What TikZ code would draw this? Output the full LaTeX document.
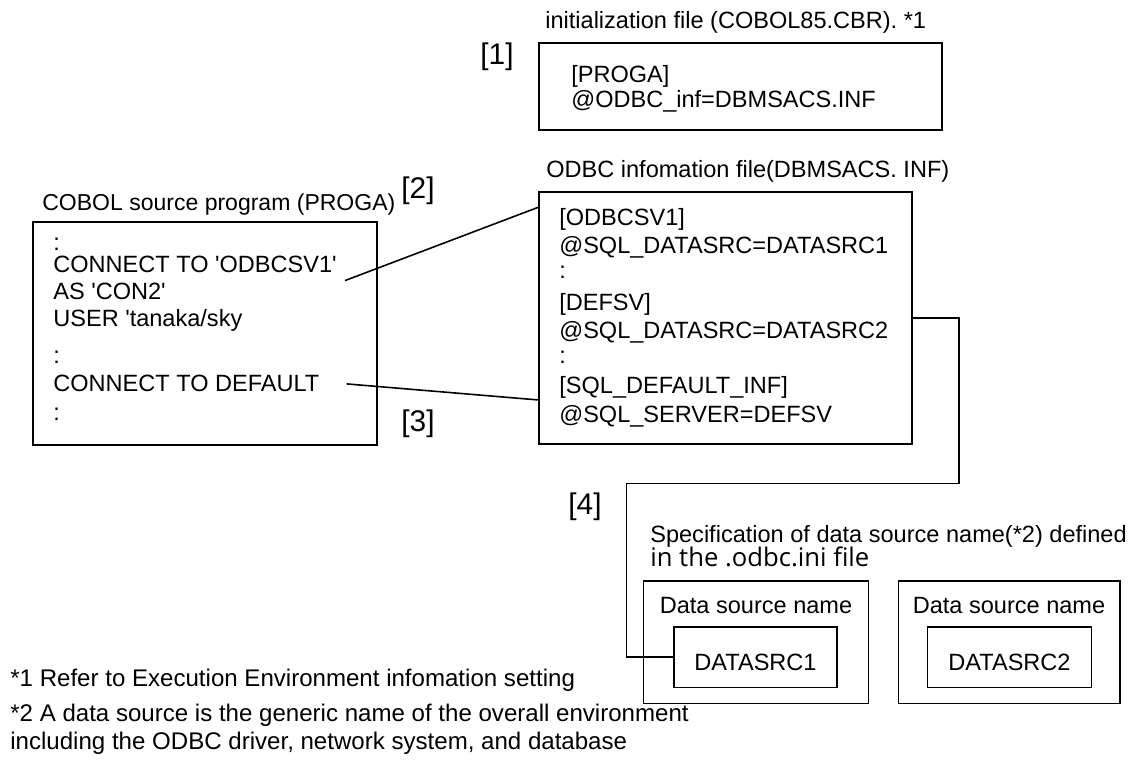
\documentclass[tikz,border=0pt]{standalone}
\usepackage{fontspec}
\setmainfont{Liberation Sans}[Ligatures=TeXOff]
\newfontfamily\inifont{Open Sans}
\usetikzlibrary{fit}

\tikzset{
  txt/.style={inner sep=0pt,anchor=base west,font=\fontsize{13.4}{15}\selectfont},
  note/.style={txt,font=\fontsize{13.7}{15}\selectfont},
  num/.style={inner sep=0pt,font=\fontsize{17}{18}\selectfont},
  filebox/.style={draw,line width=0.9pt,inner sep=0pt},
  link/.style={line width=0.9pt}
}

\begin{document}
\begin{tikzpicture}[x=0.02cm,y=-0.02cm]
  \useasboundingbox (0,0) rectangle (1133,762);

  % boxes
  \node[filebox,fit={(539,43) (942,130)}] (ini) {};
  \node[filebox,fit={(33,222) (377,445)}] (cobol) {};
  \node[filebox,fit={(539,192) (912,444)}] (odbc) {};
  \node[filebox,fit={(643.5,581) (868.5,703.5)}] (dsn1) {};
  \node[filebox,fit={(898.5,581) (1120,703.5)}] (dsn2) {};
  \node[filebox,fit={(674,627) (837,687.5)}] (src1) {};
  \node[filebox,fit={(927.5,627) (1091.5,687.5)}] (src2) {};

  % titles
  \node[txt] (initle) at (545,28) {initialization file (COBOL85.CBR). *1};
  \node[txt,font=\fontsize{13.1}{15}\selectfont] (cobtitle) at (42,210) {COBOL source program (PROGA)};
  \node[txt] (odbctitle) at (546,177) {ODBC infomation file(DBMSACS. INF)};
  \node[txt] (spec) at (650,542) {Specification of data source name(*2) defined};
  \node[txt,font=\inifont\fontsize{14.6}{17}\selectfont] (spec2) at (650,566) {in the .odbc.ini file};

  % step numbers
  \node[num] (n1) at (497,57) {[1]};
  \node[num] (n2) at (418,191) {[2]};
  \node[num] (n3) at (418,424) {[3]};
  \node[num] (n4) at (585,507) {[4]};

  % initialization file
  \node[txt] (ini1) at (571,82) {[PROGA]};
  \node[txt] (ini2) at (571,107) {@ODBC\_inf=DBMSACS.INF};

  % COBOL source
  \node[txt] (cob1) at (53,250) {:};
  \node[txt] (cob2) at (53,272) {CONNECT TO 'ODBCSV1'};
  \node[txt] (cob3) at (53,299) {AS 'CON2'};
  \node[txt] (cob4) at (53,326) {USER 'tanaka/sky};
  \node[txt] (cob5) at (53,363) {:};
  \node[txt] (cob6) at (53,391) {CONNECT TO DEFAULT};
  \node[txt] (cob7) at (53,420) {:};

  % ODBC information file
  \node[txt] (odb1) at (559,225) {[ODBCSV1]};
  \node[txt] (odb2) at (559,253) {@SQL\_DATASRC=DATASRC1};
  \node[txt] (odb3) at (559,278) {:};
  \node[txt] (odb4) at (559,310) {[DEFSV]};
  \node[txt] (odb5) at (559,338) {@SQL\_DATASRC=DATASRC2};
  \node[txt] (odb6) at (559,363) {:};
  \node[txt] (odb7) at (559,393) {[SQL\_DEFAULT\_INF]};
  \node[txt] (odb8) at (559,422) {@SQL\_SERVER=DEFSV};

  % data sources
  \node[txt,anchor=base] (dsnlab1) at (756,613) {Data source name};
  \node[txt,anchor=base] (dsnlab2) at (1009,613) {Data source name};
  \node[txt,anchor=base] (srcname1) at (755.5,670) {DATASRC1};
  \node[txt,anchor=base] (srcname2) at (1009.5,670) {DATASRC2};

  % notes
  \node[note] (note1) at (10,686) {*1 Refer to Execution Environment infomation setting};
  \node[note] (note2) at (10,721) {*2 A data source is the generic name of the overall environment};
  \node[note] (note3) at (10,749) {including the ODBC driver, network system, and database};

  % connectors
  \coordinate (pin2) at (539,207);
  \coordinate (pin3) at (539,400);
  \coordinate (tap) at (959,318);
  \coordinate (jog) at (626.5,483.5);
  \draw[link] ([shift={(8,8)}]cob2.south east) -- (pin2);
  \draw[link] ([shift={(27,1)}]cob6.east) -- (pin3);
  \draw[link] (odbc.east |- tap) -- (tap) |- (jog) |- (src1.west);
\end{tikzpicture}
\end{document}
